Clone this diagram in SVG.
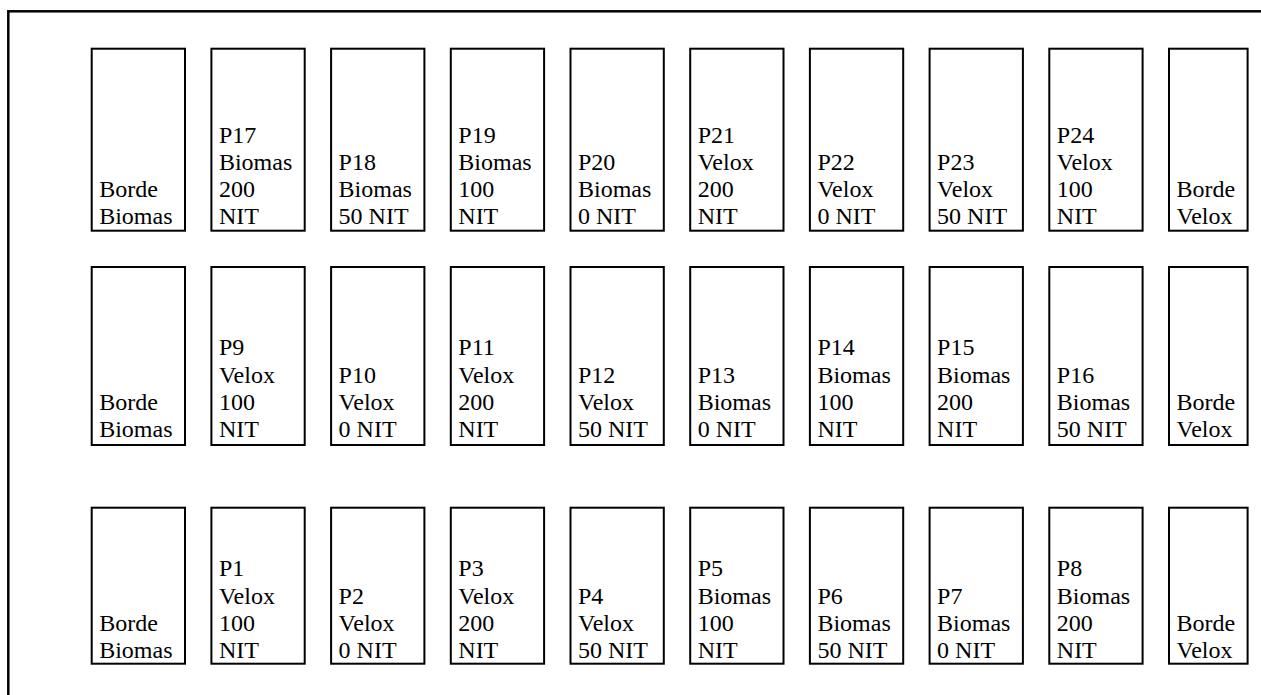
<svg xmlns="http://www.w3.org/2000/svg" width="1261" height="695" viewBox="0 0 1261 695">
<style>
.frame{fill:none;stroke:#000;stroke-width:2.5}
.box{fill:#fff;stroke:#000;stroke-width:2}
.t{font-family:"Liberation Serif","Times New Roman",serif;font-size:24px;fill:#000}
</style>
<rect width="1261" height="695" fill="#fff"/>
<rect class="frame" x="8.3" y="11.3" width="1300" height="720"/>
<g id="connectors"></g>
<!-- Row 1 -->
<g id="r1c0"><rect class="box" x="91.7" y="48.7" width="93.3" height="182"/><text class="t" y="197.1"><tspan x="99.2">Borde</tspan><tspan x="99.2" dy="27.2">Biomas</tspan></text></g>
<g id="P17"><rect class="box" x="211.4" y="48.7" width="93.3" height="182"/><text class="t" y="142.7"><tspan x="218.9">P17</tspan><tspan x="218.9" dy="27.2">Biomas</tspan><tspan x="218.9" dy="27.2">200</tspan><tspan x="218.9" dy="27.2">NIT</tspan></text></g>
<g id="P18"><rect class="box" x="331.1" y="48.7" width="93.3" height="182"/><text class="t" y="169.9"><tspan x="338.6">P18</tspan><tspan x="338.6" dy="27.2">Biomas</tspan><tspan x="338.6" dy="27.2">50 NIT</tspan></text></g>
<g id="P19"><rect class="box" x="450.8" y="48.7" width="93.3" height="182"/><text class="t" y="142.7"><tspan x="458.3">P19</tspan><tspan x="458.3" dy="27.2">Biomas</tspan><tspan x="458.3" dy="27.2">100</tspan><tspan x="458.3" dy="27.2">NIT</tspan></text></g>
<g id="P20"><rect class="box" x="570.5" y="48.7" width="93.3" height="182"/><text class="t" y="169.9"><tspan x="578">P20</tspan><tspan x="578" dy="27.2">Biomas</tspan><tspan x="578" dy="27.2">0 NIT</tspan></text></g>
<g id="P21"><rect class="box" x="690.2" y="48.7" width="93.3" height="182"/><text class="t" y="142.7"><tspan x="697.7">P21</tspan><tspan x="697.7" dy="27.2">Velox</tspan><tspan x="697.7" dy="27.2">200</tspan><tspan x="697.7" dy="27.2">NIT</tspan></text></g>
<g id="P22"><rect class="box" x="809.9" y="48.7" width="93.3" height="182"/><text class="t" y="169.9"><tspan x="817.4">P22</tspan><tspan x="817.4" dy="27.2">Velox</tspan><tspan x="817.4" dy="27.2">0 NIT</tspan></text></g>
<g id="P23"><rect class="box" x="929.6" y="48.7" width="93.3" height="182"/><text class="t" y="169.9"><tspan x="937.1">P23</tspan><tspan x="937.1" dy="27.2">Velox</tspan><tspan x="937.1" dy="27.2">50 NIT</tspan></text></g>
<g id="P24"><rect class="box" x="1049.3" y="48.7" width="93.3" height="182"/><text class="t" y="142.7"><tspan x="1056.8">P24</tspan><tspan x="1056.8" dy="27.2">Velox</tspan><tspan x="1056.8" dy="27.2">100</tspan><tspan x="1056.8" dy="27.2">NIT</tspan></text></g>
<g id="r1c9"><rect class="box" x="1169" y="48.7" width="78.6" height="182"/><text class="t" y="197.1"><tspan x="1176.5">Borde</tspan><tspan x="1176.5" dy="27.2">Velox</tspan></text></g>
<!-- Row 2 -->
<g id="r2c0"><rect class="box" x="91.7" y="267" width="93.3" height="178"/><text class="t" y="409.8"><tspan x="99.2">Borde</tspan><tspan x="99.2" dy="27.2">Biomas</tspan></text></g>
<g id="P9"><rect class="box" x="211.4" y="267" width="93.3" height="178"/><text class="t" y="355.4"><tspan x="218.9">P9</tspan><tspan x="218.9" dy="27.2">Velox</tspan><tspan x="218.9" dy="27.2">100</tspan><tspan x="218.9" dy="27.2">NIT</tspan></text></g>
<g id="P10"><rect class="box" x="331.1" y="267" width="93.3" height="178"/><text class="t" y="382.6"><tspan x="338.6">P10</tspan><tspan x="338.6" dy="27.2">Velox</tspan><tspan x="338.6" dy="27.2">0 NIT</tspan></text></g>
<g id="P11"><rect class="box" x="450.8" y="267" width="93.3" height="178"/><text class="t" y="355.4"><tspan x="458.3">P11</tspan><tspan x="458.3" dy="27.2">Velox</tspan><tspan x="458.3" dy="27.2">200</tspan><tspan x="458.3" dy="27.2">NIT</tspan></text></g>
<g id="P12"><rect class="box" x="570.5" y="267" width="93.3" height="178"/><text class="t" y="382.6"><tspan x="578">P12</tspan><tspan x="578" dy="27.2">Velox</tspan><tspan x="578" dy="27.2">50 NIT</tspan></text></g>
<g id="P13"><rect class="box" x="690.2" y="267" width="93.3" height="178"/><text class="t" y="382.6"><tspan x="697.7">P13</tspan><tspan x="697.7" dy="27.2">Biomas</tspan><tspan x="697.7" dy="27.2">0 NIT</tspan></text></g>
<g id="P14"><rect class="box" x="809.9" y="267" width="93.3" height="178"/><text class="t" y="355.4"><tspan x="817.4">P14</tspan><tspan x="817.4" dy="27.2">Biomas</tspan><tspan x="817.4" dy="27.2">100</tspan><tspan x="817.4" dy="27.2">NIT</tspan></text></g>
<g id="P15"><rect class="box" x="929.6" y="267" width="93.3" height="178"/><text class="t" y="355.4"><tspan x="937.1">P15</tspan><tspan x="937.1" dy="27.2">Biomas</tspan><tspan x="937.1" dy="27.2">200</tspan><tspan x="937.1" dy="27.2">NIT</tspan></text></g>
<g id="P16"><rect class="box" x="1049.3" y="267" width="93.3" height="178"/><text class="t" y="382.6"><tspan x="1056.8">P16</tspan><tspan x="1056.8" dy="27.2">Biomas</tspan><tspan x="1056.8" dy="27.2">50 NIT</tspan></text></g>
<g id="r2c9"><rect class="box" x="1169" y="267" width="78.6" height="178"/><text class="t" y="409.8"><tspan x="1176.5">Borde</tspan><tspan x="1176.5" dy="27.2">Velox</tspan></text></g>
<!-- Row 3 -->
<g id="r3c0"><rect class="box" x="91.7" y="507.7" width="93.3" height="156"/><text class="t" y="630.8"><tspan x="99.2">Borde</tspan><tspan x="99.2" dy="27.2">Biomas</tspan></text></g>
<g id="P1"><rect class="box" x="211.4" y="507.7" width="93.3" height="156"/><text class="t" y="576.4"><tspan x="218.9">P1</tspan><tspan x="218.9" dy="27.2">Velox</tspan><tspan x="218.9" dy="27.2">100</tspan><tspan x="218.9" dy="27.2">NIT</tspan></text></g>
<g id="P2"><rect class="box" x="331.1" y="507.7" width="93.3" height="156"/><text class="t" y="603.6"><tspan x="338.6">P2</tspan><tspan x="338.6" dy="27.2">Velox</tspan><tspan x="338.6" dy="27.2">0 NIT</tspan></text></g>
<g id="P3"><rect class="box" x="450.8" y="507.7" width="93.3" height="156"/><text class="t" y="576.4"><tspan x="458.3">P3</tspan><tspan x="458.3" dy="27.2">Velox</tspan><tspan x="458.3" dy="27.2">200</tspan><tspan x="458.3" dy="27.2">NIT</tspan></text></g>
<g id="P4"><rect class="box" x="570.5" y="507.7" width="93.3" height="156"/><text class="t" y="603.6"><tspan x="578">P4</tspan><tspan x="578" dy="27.2">Velox</tspan><tspan x="578" dy="27.2">50 NIT</tspan></text></g>
<g id="P5"><rect class="box" x="690.2" y="507.7" width="93.3" height="156"/><text class="t" y="576.4"><tspan x="697.7">P5</tspan><tspan x="697.7" dy="27.2">Biomas</tspan><tspan x="697.7" dy="27.2">100</tspan><tspan x="697.7" dy="27.2">NIT</tspan></text></g>
<g id="P6"><rect class="box" x="809.9" y="507.7" width="93.3" height="156"/><text class="t" y="603.6"><tspan x="817.4">P6</tspan><tspan x="817.4" dy="27.2">Biomas</tspan><tspan x="817.4" dy="27.2">50 NIT</tspan></text></g>
<g id="P7"><rect class="box" x="929.6" y="507.7" width="93.3" height="156"/><text class="t" y="603.6"><tspan x="937.1">P7</tspan><tspan x="937.1" dy="27.2">Biomas</tspan><tspan x="937.1" dy="27.2">0 NIT</tspan></text></g>
<g id="P8"><rect class="box" x="1049.3" y="507.7" width="93.3" height="156"/><text class="t" y="576.4"><tspan x="1056.8">P8</tspan><tspan x="1056.8" dy="27.2">Biomas</tspan><tspan x="1056.8" dy="27.2">200</tspan><tspan x="1056.8" dy="27.2">NIT</tspan></text></g>
<g id="r3c9"><rect class="box" x="1169" y="507.7" width="78.6" height="156"/><text class="t" y="630.8"><tspan x="1176.5">Borde</tspan><tspan x="1176.5" dy="27.2">Velox</tspan></text></g>
</svg>
